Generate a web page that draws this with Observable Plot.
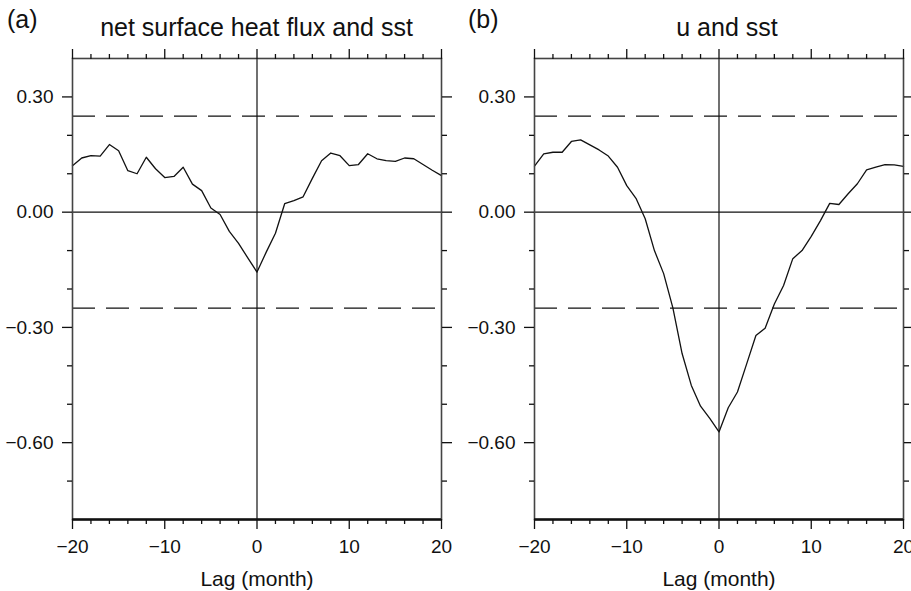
<!DOCTYPE html>
<html><head><meta charset="utf-8">
<script src="https://cdn.jsdelivr.net/npm/d3@7"></script>
<script src="https://cdn.jsdelivr.net/npm/@observablehq/plot@0.6"></script>
<style>
html,body{margin:0;padding:0;background:#fff;}
#wrap{position:relative;width:911px;height:591px;overflow:hidden;font-family:"Liberation Sans",Arial,Helvetica,sans-serif;background:#fff;}
.t{position:absolute;font-size:25px;line-height:25px;white-space:nowrap;color:#111;}
.c{transform:translateX(-50%);}
.p{position:absolute;top:40px;}
g[aria-label="x-axis label"], g[aria-label="x-axis label"] text{font-size:21px;}
</style></head><body>
<div id="wrap">
  <div class="t" style="left:7px;top:7px">(a)</div>
  <div class="t c" style="left:256.5px;top:15px">net surface heat flux and sst</div>
  <div class="t" style="left:468px;top:7px">(b)</div>
  <div class="t c" style="left:727px;top:15px">u and sst</div>
  <div class="p" id="pa" style="left:0px"></div>
  <div class="p" id="pb" style="left:455px"></div>
</div>
<script>
// Lag (month)
const lags = [-20,-19,-18,-17,-16,-15,-14,-13,-12,-11,-10,-9,-8,-7,-6,-5,-4,-3,-2,-1,0,1,2,3,4,5,6,7,8,9,10,11,12,13,14,15,16,17,18,19,20];
// (a) net surface heat flux and sst
const fluxSst = [0.121,0.141,0.147,0.146,0.176,0.160,0.108,0.100,0.143,0.113,0.090,0.093,0.117,0.073,0.056,0.011,-0.006,-0.050,-0.081,-0.119,-0.156,-0.104,-0.055,0.022,0.030,0.040,0.088,0.134,0.154,0.147,0.121,0.124,0.152,0.139,0.134,0.132,0.141,0.139,0.124,0.109,0.095];
// (b) u and sst
const uSst = [0.120,0.152,0.156,0.156,0.184,0.188,0.175,0.162,0.146,0.117,0.069,0.036,-0.017,-0.100,-0.160,-0.249,-0.368,-0.451,-0.505,-0.537,-0.572,-0.509,-0.468,-0.395,-0.321,-0.302,-0.239,-0.191,-0.121,-0.100,-0.063,-0.022,0.023,0.020,0.048,0.074,0.110,0.117,0.124,0.123,0.119];
// significance levels
const sigLevels = [0.25, -0.25];
// ticks
const yMajor = [0.3, 0, -0.3, -0.6];
const yMinor = [0.2, 0.1, -0.1, -0.2, -0.4, -0.5, -0.7];
const xMajor = [-20, -10, 0, 10, 20];
const xMinor = [-18,-16,-14,-12,-8,-6,-4,-2,2,4,6,8,12,14,16,18];
const xLabel = "Lag (month)";

const fmt = d3.format(".2f");
const ink = "#111";

function panel(values, width, ml, mr) {
  const data = lags.map((lag, i) => ({lag, r: values[i]}));
  const svg = Plot.plot({
    width, height: 551,
    marginTop: 18, marginBottom: 72, marginLeft: ml, marginRight: mr,
    x: {domain: [-20, 20]},
    y: {domain: [-0.8, 0.4]},
    style: {fontFamily: "'Liberation Sans', Arial, Helvetica, sans-serif", background: "transparent", overflow: "visible", color: ink},
    marks: [
      Plot.ruleY(sigLevels, {stroke: ink, strokeWidth: 1.2, strokeDasharray: "23,11"}),
      Plot.ruleY([0], {stroke: ink, strokeWidth: 1.2}),
      Plot.ruleX([0], {stroke: ink, strokeWidth: 1.2}),
      Plot.line(data, {x: "lag", y: "r", stroke: ink, strokeWidth: 1.3}),
      Plot.frame({stroke: "#444", strokeWidth: 1.6}),
      Plot.ruleY([-0.8], {stroke: ink, strokeWidth: 2.4}),
      Plot.axisY({anchor: "left", ticks: yMajor, tickSize: 10, tickPadding: 9, tickFormat: fmt, fontSize: 19, label: null, stroke: ink, strokeWidth: 1.3}),
      Plot.axisY({anchor: "left", ticks: yMinor, tickSize: 5, fill: "none", label: null, stroke: ink, strokeWidth: 1.3}),
      Plot.axisY({anchor: "right", ticks: yMajor, tickSize: 10, fill: "none", label: null, stroke: ink, strokeWidth: 1.3}),
      Plot.axisY({anchor: "right", ticks: yMinor, tickSize: 5, fill: "none", label: null, stroke: ink, strokeWidth: 1.3}),
      Plot.axisX({anchor: "top", ticks: xMajor, tickSize: 10, fill: "none", label: null, stroke: ink, strokeWidth: 1.3}),
      Plot.axisX({anchor: "top", ticks: xMinor, tickSize: 5, fill: "none", label: null, stroke: ink, strokeWidth: 1.3}),
      Plot.axisX({anchor: "bottom", ticks: xMinor, tickSize: 5, fill: "none", label: null, stroke: ink, strokeWidth: 1.3}),
      Plot.axisX({anchor: "bottom", ticks: xMajor, tickSize: 10, tickPadding: 10, tickFormat: d3.format("d"), fontSize: 19,
                  label: xLabel, labelAnchor: "center", labelOffset: 66, labelArrow: "none", stroke: ink, strokeWidth: 1.3})
    ]
  });
  svg.style.maxWidth = "none";
  return svg;
}

document.getElementById("pa").appendChild(panel(fluxSst, 455, 72, 14));
document.getElementById("pb").appendChild(panel(uSst, 456, 79, 8));
</script>
</body></html>
